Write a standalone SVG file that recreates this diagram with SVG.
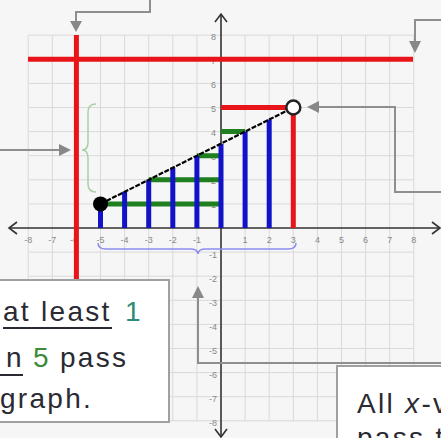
<svg xmlns="http://www.w3.org/2000/svg" width="441" height="438" viewBox="0 0 441 438">
<style>
.grid{stroke:#d9d9d9;stroke-width:1;fill:none}
.axis{stroke:#333;stroke-width:1.6;fill:none}
.tick{font-family:"Liberation Sans",Arial,sans-serif;font-size:9px;fill:#888}
.red{stroke:#e8141a;stroke-width:5;fill:none}
.blue{stroke:#1212c8;stroke-width:5;fill:none}
.green{stroke:#1f7f1f;stroke-width:5;fill:none}
.conn{stroke:#8e8e8e;stroke-width:2;fill:none}
.head{fill:#888}
.box{fill:#fff;stroke:#a0a0a0;stroke-width:2}
.txt{font-family:"Liberation Sans",Arial,sans-serif;font-size:28px;fill:#2a2a33;letter-spacing:2.3px}
.ul{stroke:#2a2a33;stroke-width:2}
</style>
<rect width="441" height="438" fill="#f6f6f6"/>
<g id="grid">
<path class="grid" d="M28.2,35.2V420.8M52.3,35.2V420.8M76.4,35.2V420.8M100.5,35.2V420.8M124.6,35.2V420.8M148.7,35.2V420.8M172.8,35.2V420.8M196.9,35.2V420.8M245.1,35.2V420.8M269.2,35.2V420.8M293.3,35.2V420.8M317.4,35.2V420.8M341.5,35.2V420.8M365.6,35.2V420.8M389.7,35.2V420.8M413.8,35.2V420.8
M28.2,35.2H413.8M28.2,59.3H413.8M28.2,83.4H413.8M28.2,107.5H413.8M28.2,131.6H413.8M28.2,155.7H413.8M28.2,179.8H413.8M28.2,203.9H413.8M28.2,252.1H413.8M28.2,276.2H413.8M28.2,300.3H413.8M28.2,324.4H413.8M28.2,348.5H413.8M28.2,372.6H413.8M28.2,396.7H413.8M28.2,420.8H413.8"/>
</g>
<g id="ticks" class="tick" text-anchor="middle">
<text x="28.2" y="243">-8</text><text x="52.3" y="243">-7</text><text x="74" y="243">-6</text><text x="100.5" y="243">-5</text><text x="124.6" y="243">-4</text><text x="148.7" y="243">-3</text><text x="172.8" y="243">-2</text><text x="196.9" y="243">-1</text>
<text x="245.1" y="243">1</text><text x="269.2" y="243">2</text><text x="293.3" y="243">3</text><text x="317.4" y="243">4</text><text x="341.5" y="243">5</text><text x="365.6" y="243">6</text><text x="389.7" y="243">7</text><text x="413.8" y="243">8</text>
</g>
<g id="yticks" class="tick" text-anchor="end">
<text x="216" y="40">8</text><text x="216" y="64">7</text><text x="216" y="88">6</text><text x="216" y="112">5</text><text x="216" y="136">4</text><text x="216" y="160">3</text><text x="216" y="184">2</text><text x="216" y="208">1</text>
<text x="217" y="258">-1</text><text x="217" y="282">-2</text><text x="217" y="306">-3</text><text x="217" y="330">-4</text><text x="217" y="354">-5</text><text x="217" y="378">-6</text><text x="217" y="402">-7</text><text x="217" y="426">-8</text>
</g>
<g id="axes">
<path class="axis" d="M9,228H440M221,14V437"/>
<path class="axis" d="M17,222L9,228L17,234M432,222L440,228L432,234M215,22L221,14L227,22M215,429L221,437L227,429"/>
</g>
<g id="shading">
<path class="green" d="M100.5,203.9H221M148.7,179.8H221M196.9,155.7H221M221,131.6H245.1"/>
<path class="blue" d="M100.5,228V203.9M124.6,228V191.85M148.7,228V179.8M172.8,228V167.75M196.9,228V155.7M221,228V143.65M245.1,228V131.6M269.2,228V119.55"/>
</g>
<g id="red-lines">
<path class="red" d="M28,59.3H413M76.4,35V280M221,107.5H293.3M293.3,107.5V228"/>
</g>
<g id="graph-line">
<path d="M100.5,203.9L293.3,107.5" stroke="#000" stroke-width="2.2" stroke-dasharray="5,1.5"/>
<circle cx="100.5" cy="203.9" r="7.5" fill="#000"/>
<circle cx="293.3" cy="107.5" r="7" fill="#fff" stroke="#222" stroke-width="2.5"/>
</g>
<g id="braces" fill="none" stroke-width="1.5">
<path d="M96,104Q88,104 88,112V142Q88,150 82,150Q88,150 88,158V184Q88,192 96,192" stroke="#a8d0a8"/>
<path d="M98,243Q98,249 106,249H190Q198,249 198,254Q198,249 206,249H288Q296,249 296,243" stroke="#8c8cf0"/>
</g>
<g id="connectors">
<path class="conn" d="M150,0V12H76V22"/><polygon class="head" points="70,21 82,21 76,32"/>
<path class="conn" d="M441,20H415V42"/><polygon class="head" points="409,41 421,41 415,53"/>
<path class="conn" d="M441,192H395V107H318"/><polygon class="head" points="319,101 319,113 307,107"/>
<path class="conn" d="M0,150H60"/><polygon class="head" points="59,144 59,156 71,150"/>
<path class="conn" d="M441,363H198V297"/><polygon class="head" points="192,298 204,298 198,286"/>
</g>
<g id="box-left">
<rect class="box" x="-3" y="280" width="172" height="142"/>
<text class="txt" x="3" y="321">at least</text>
<line class="ul" x1="3" y1="328" x2="112" y2="328"/>
<text class="txt" x="125" y="321" fill="#2f8a78" style="fill:#2f8a78">1</text>
<text class="txt" x="6" y="367">n</text>
<line class="ul" x1="0" y1="375" x2="23" y2="375"/>
<text class="txt" x="33" y="367" style="fill:#3d8a3d">5</text>
<text class="txt" x="60" y="367">pass</text>
<text class="txt" x="0" y="408">graph.</text>
</g>
<g id="box-right">
<rect class="box" x="337" y="366" width="110" height="80"/>
<text class="txt" x="357" y="413">All <tspan font-style="italic">x</tspan>-v</text>
<text class="txt" x="357" y="447">pass t</text>
</g>
</svg>
